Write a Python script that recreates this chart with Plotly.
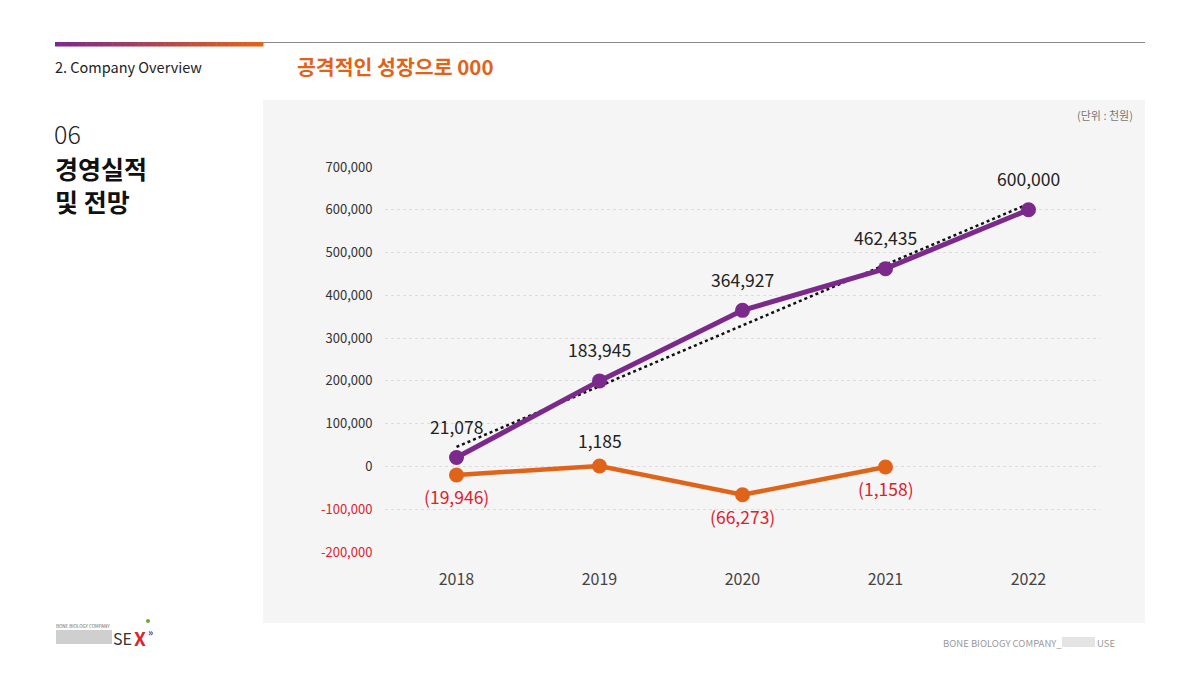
import numpy as np
import plotly.graph_objects as go

# chart data (unit: 천원)
years = ["2018", "2019", "2020", "2021", "2022"]
revenue = [21078, 200000, 364927, 462435, 600000]
revenue_labels = ["21,078", "183,945", "364,927", "462,435", "600,000"]
op_years = ["2018", "2019", "2020", "2021"]
op_profit = [-19946, 1185, -66273, -1158]
op_labels = ["(19,946)", "1,185", "(66,273)", "(1,158)"]
y_ticks = [-200000, -100000, 0, 100000, 200000, 300000, 400000, 500000, 600000, 700000]

PURPLE = "#7b2a8c"
ORANGE = "#e0631a"
RED = "#d9232e"
FONT = "Noto Sans CJK KR"
W, H = 1200, 675
OFF = 8  # page body margin in the browser


def px(x):
    return (x - OFF) / W


def py(y):
    return 1 - (y - OFF) / H


# linear trendline over revenue, like the spreadsheet one
xs = np.arange(len(years))
slope, inter = np.polyfit(xs, revenue, 1)
trend = slope * xs + inter

fig = go.Figure()
fig.add_trace(go.Scatter(x=years, y=trend, mode="lines",
                         line=dict(color="#111111", width=2.5, dash="dot"),
                         hoverinfo="skip"))
fig.add_trace(go.Scatter(x=years, y=revenue, mode="lines+markers",
                         line=dict(color=PURPLE, width=5),
                         marker=dict(size=15, color=PURPLE)))
fig.add_trace(go.Scatter(x=op_years, y=op_profit, mode="lines+markers",
                         line=dict(color=ORANGE, width=4.5),
                         marker=dict(size=15, color=ORANGE)))

tick_text = []
for t in y_ticks:
    s = f"{t:,}"
    tick_text.append(f'<span style="color:{RED}">{s}</span>' if t < 0 else s)

fig.update_layout(
    template="none",
    autosize=False,
    width=W, height=H,
    margin=dict(l=0, r=0, t=0, b=0, pad=0, autoexpand=False),
    paper_bgcolor="white",
    plot_bgcolor="rgba(0,0,0,0)",
    showlegend=False,
    font=dict(family=FONT, color="#333333"),
    xaxis=dict(domain=[px(385), px(1100)], range=[-0.5, 4.5], type="category",
               showgrid=False, zeroline=False, showline=False, automargin=False,
               ticks="outside", ticklen=13, tickcolor="rgba(0,0,0,0)",
               tickfont=dict(family=FONT, size=16, color="#444444")),
    yaxis=dict(domain=[py(552), py(167)], range=[-200000, 700000],
               tickvals=y_ticks, ticktext=tick_text, automargin=False,
               showgrid=True, gridcolor="#dcdcdc", griddash="dot", gridwidth=1,
               zeroline=False, showline=False,
               ticks="outside", ticklen=9, tickcolor="rgba(0,0,0,0)",
               tickfont=dict(family=FONT, size=13, color="#333333")),
)

# value labels (category axis -> index positions)
for i, (v, t) in enumerate(zip(revenue, revenue_labels)):
    fig.add_annotation(xref="x", yref="y", x=i, y=v, text=t, showarrow=False,
                       yshift=31, font=dict(family=FONT, size=17.5, color="#222222"))
for i, (v, t) in enumerate(zip(op_profit, op_labels)):
    above = v > 0
    fig.add_annotation(xref="x", yref="y", x=i, y=v, text=t, showarrow=False,
                       yshift=25 if above else -22,
                       font=dict(family=FONT, size=17.5,
                                 color="#222222" if above else RED))

shapes = []
# grey panel behind the chart
shapes.append(dict(type="rect", xref="paper", yref="paper", layer="below",
                   x0=px(263), x1=px(1145), y0=py(623), y1=py(100),
                   fillcolor="#f5f5f5", line=dict(width=0)))
# header rule
shapes.append(dict(type="line", xref="paper", yref="paper",
                   x0=px(263), x1=px(1145), y0=py(42.5), y1=py(42.5),
                   line=dict(color="#8a8a8a", width=1)))
# gradient bar purple -> orange
n = 40
c0 = np.array([123, 42, 140])
c1 = np.array([226, 100, 26])
for i in range(n):
    f = i / (n - 1)
    c = (c0 * (1 - f) + c1 * f).astype(int)
    x0 = 55 + (263 - 55) * i / n
    x1 = 55 + (263 - 55) * (i + 1) / n + 0.5
    shapes.append(dict(type="rect", xref="paper", yref="paper",
                       x0=px(x0), x1=px(x1), y0=py(46.5), y1=py(42),
                       fillcolor=f"rgb({c[0]},{c[1]},{c[2]})", line=dict(width=0)))
# blurred logo parts
shapes.append(dict(type="rect", xref="paper", yref="paper",
                   x0=px(56), x1=px(112), y0=py(644), y1=py(630),
                   fillcolor="#cfcfcf", line=dict(width=0)))
shapes.append(dict(type="rect", xref="paper", yref="paper",
                   x0=px(1062), x1=px(1095), y0=py(647), y1=py(637),
                   fillcolor="#e4e4e4", line=dict(width=0)))
shapes.append(dict(type="circle", xref="paper", yref="paper",
                   x0=px(146), x1=px(150), y0=py(623), y1=py(619),
                   fillcolor="#6aa832", line=dict(width=0)))
fig.update_layout(shapes=shapes)


def label(x, y, text, size, color="#222222", xanchor="left", weight="normal"):
    fig.add_annotation(xref="paper", yref="paper", x=px(x), y=py(y), text=text,
                       showarrow=False, xanchor=xanchor, yanchor="middle",
                       font=dict(family=FONT, size=size, color=color, weight=weight))


label(53, 66, "2. Company Overview", 14.5, "#222222")
label(295, 66, "<b>공격적인 성장으로 000</b>", 20.5, ORANGE)
label(52, 133, "06", 25, "#222222", weight=300)
label(53, 168, "<b>경영실적</b>", 25, "#111111")
label(53, 201, "<b>및 전망</b>", 25, "#111111")
label(1135, 115, "(단위 : 천원)", 11, "#777777", xanchor="right")

# footer
label(54, 626, "BONE BIOLOGY COMPANY", 4.5, "#666666")
label(111, 638, "SE", 16, "#333333")
label(132, 637, "<b>X</b>", 19, "#d8262c")
label(146, 631, "<b>»</b>", 10, "#6a2a8a")
label(941, 643, "BONE BIOLOGY COMPANY_", 9.5, "#9a9a9a")
label(1095, 643, "USE", 9.5, "#9a9a9a")

fig.write_html("out.html")
